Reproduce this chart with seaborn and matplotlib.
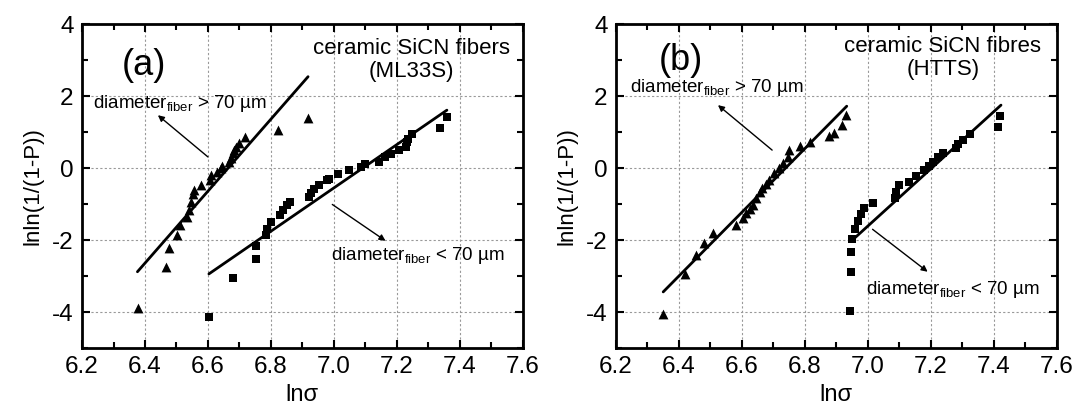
import matplotlib
matplotlib.use("Agg")
import matplotlib.pyplot as plt
from matplotlib.ticker import MultipleLocator
import seaborn as sns

# panel (a) ML33S, diameter > 70 um (triangles)
a_big_x = [6.377, 6.466, 6.477, 6.503, 6.512, 6.534, 6.540, 6.547, 6.552, 6.557, 6.579, 6.605, 6.610,
           6.630, 6.640, 6.646, 6.668, 6.674, 6.679, 6.684, 6.690, 6.700, 6.719, 6.824, 6.918]
a_big_y = [-3.88, -2.76, -2.23, -1.86, -1.58, -1.35, -1.17, -0.94, -0.72, -0.61, -0.47, -0.33, -0.19,
           -0.10, -0.01, 0.06, 0.18, 0.27, 0.41, 0.50, 0.59, 0.69, 0.87, 1.07, 1.40]
# panel (a) diameter < 70 um (squares)
a_small_x = [6.604, 6.679, 6.753, 6.754, 6.784, 6.788, 6.801, 6.830, 6.837, 6.852, 6.861, 6.922, 6.927,
             6.937, 6.952, 6.979, 6.985, 7.014, 7.048, 7.085, 7.099, 7.143, 7.162, 7.180, 7.206, 7.228,
             7.233, 7.236, 7.249, 7.336, 7.359]
a_small_y = [-4.15, -3.04, -2.52, -2.17, -1.87, -1.68, -1.49, -1.29, -1.17, -1.03, -0.94, -0.80, -0.68,
             -0.57, -0.47, -0.33, -0.29, -0.17, -0.06, 0.04, 0.12, 0.18, 0.31, 0.39, 0.50, 0.59,
             0.72, 0.80, 0.94, 1.12, 1.43]
a_big_fit_x = [6.376, 6.918]
a_big_fit_y = [-2.88, 2.54]
a_small_fit_x = [6.603, 7.359]
a_small_fit_y = [-2.94, 1.61]

# panel (b) HTTS
b_big_x = [6.350, 6.419, 6.455, 6.481, 6.508, 6.582, 6.603, 6.614, 6.625, 6.635, 6.645, 6.656, 6.665,
           6.675, 6.687, 6.703, 6.719, 6.730, 6.746, 6.751, 6.783, 6.817, 6.878, 6.891, 6.918, 6.931]
b_big_y = [-4.06, -2.93, -2.42, -2.09, -1.81, -1.58, -1.40, -1.26, -1.15, -1.03, -0.84, -0.66, -0.55,
           -0.45, -0.33, -0.15, -0.01, 0.13, 0.31, 0.50, 0.62, 0.73, 0.89, 0.98, 1.19, 1.47]
b_small_x = [6.944, 6.945, 6.947, 6.951, 6.960, 6.969, 6.977, 6.988, 7.016, 7.085, 7.090, 7.100, 7.130,
             7.153, 7.179, 7.195, 7.206, 7.222, 7.240, 7.280, 7.285, 7.303, 7.324, 7.412, 7.420]
b_small_y = [-3.96, -2.88, -2.32, -1.98, -1.68, -1.46, -1.28, -1.12, -0.98, -0.84, -0.66, -0.47, -0.38,
             -0.22, -0.06, 0.06, 0.18, 0.31, 0.43, 0.55, 0.67, 0.78, 0.94, 1.13, 1.44]
b_big_fit_x = [6.350, 6.933]
b_big_fit_y = [-3.44, 1.72]
b_small_fit_x = [6.951, 7.423]
b_small_fit_y = [-2.00, 1.75]

sns.set_style("ticks")
plt.rcParams["font.family"] = ["Liberation Sans", "DejaVu Sans"]
plt.rcParams["mathtext.fontset"] = "custom"
plt.rcParams["mathtext.rm"] = "Liberation Sans"
plt.rcParams["mathtext.it"] = "Liberation Sans:italic"
plt.rcParams["axes.unicode_minus"] = False
plt.rcParams["text.color"] = "black"
plt.rcParams["axes.labelcolor"] = "black"
plt.rcParams["xtick.color"] = "black"
plt.rcParams["ytick.color"] = "black"
plt.rcParams["axes.edgecolor"] = "black"

fig = plt.figure(figsize=(10.75, 4.09), dpi=100)
ax_a = fig.add_axes([0.0763, 0.149, 0.410, 0.792])
ax_b = fig.add_axes([0.573, 0.149, 0.410, 0.792])


def draw_panel(ax, bx, by, sx, sy, bfx, bfy, sfx, sfy):
    sns.scatterplot(x=bx, y=by, marker="^", color="black", s=50, linewidth=0, ax=ax, zorder=3)
    sns.scatterplot(x=sx, y=sy, marker="s", color="black", s=38, linewidth=0, ax=ax, zorder=3)
    sns.lineplot(x=bfx, y=bfy, color="black", lw=2, ax=ax, zorder=4)
    sns.lineplot(x=sfx, y=sfy, color="black", lw=2, ax=ax, zorder=4)
    ax.set_xlim(6.2, 7.6)
    ax.set_ylim(-5, 4)
    ax.xaxis.set_major_locator(MultipleLocator(0.2))
    ax.xaxis.set_minor_locator(MultipleLocator(0.1))
    ax.yaxis.set_major_locator(MultipleLocator(2))
    ax.yaxis.set_minor_locator(MultipleLocator(1))
    ax.set_xticks([6.2, 6.4, 6.6, 6.8, 7.0, 7.2, 7.4, 7.6])
    ax.set_xticklabels(["6.2", "6.4", "6.6", "6.8", "7.0", "7.2", "7.4", "7.6"])
    ax.grid(True, which="major", ls=(0, (2, 2)), color="#999999", lw=0.8)
    ax.tick_params(which="both", direction="in", top=True, right=True, labelsize=17.5, width=1.5, pad=6)
    ax.tick_params(which="major", length=6)
    ax.tick_params(which="minor", length=4)
    for sp in ax.spines.values():
        sp.set_linewidth(2)
    ax.set_xlabel("lnσ", fontsize=17, labelpad=4)
    ax.set_ylabel("lnln(1/(1-P))", fontsize=16, labelpad=6)


draw_panel(ax_a, a_big_x, a_big_y, a_small_x, a_small_y,
           a_big_fit_x, a_big_fit_y, a_small_fit_x, a_small_fit_y)
draw_panel(ax_b, b_big_x, b_big_y, b_small_x, b_small_y,
           b_big_fit_x, b_big_fit_y, b_small_fit_x, b_small_fit_y)

arrow = dict(arrowstyle="-|>", color="black", lw=1, mutation_scale=9, shrinkA=0, shrinkB=0)
big_label = r"diameter$_{\mathrm{fiber}}$ > 70 µm"
small_label = r"diameter$_{\mathrm{fiber}}$ < 70 µm"

# panel (a) texts
ax_a.text(6.396, 2.85, "(a)", fontsize=26, ha="center", va="center")
ax_a.text(7.247, 3.0, "ceramic SiCN fibers\n(ML33S)", fontsize=16, ha="center", va="center",
          multialignment="center", linespacing=1.1)
ax_a.text(6.235, 1.8, big_label, fontsize=13.5, ha="left", va="center")
ax_a.annotate("", xy=(6.441, 1.47), xytext=(6.600, 0.31), arrowprops=arrow)
ax_a.text(6.99, -2.42, small_label, fontsize=13.5, ha="left", va="center")
ax_a.annotate("", xy=(7.164, -2.02), xytext=(6.995, -1.01), arrowprops=arrow)

# panel (b) texts
ax_b.text(6.406, 3.0, "(b)", fontsize=26, ha="center", va="center")
ax_b.text(7.238, 3.06, "ceramic SiCN fibres\n(HTTS)", fontsize=16, ha="center", va="center",
          multialignment="center", linespacing=1.1)
ax_b.text(6.244, 2.25, big_label, fontsize=13.5, ha="left", va="center")
ax_b.annotate("", xy=(6.524, 1.75), xytext=(6.696, 0.50), arrowprops=arrow)
ax_b.text(6.994, -3.36, small_label, fontsize=13.5, ha="left", va="center")
ax_b.annotate("", xy=(7.190, -2.88), xytext=(7.015, -1.70), arrowprops=arrow)

fig.savefig("out.png", dpi=100)
